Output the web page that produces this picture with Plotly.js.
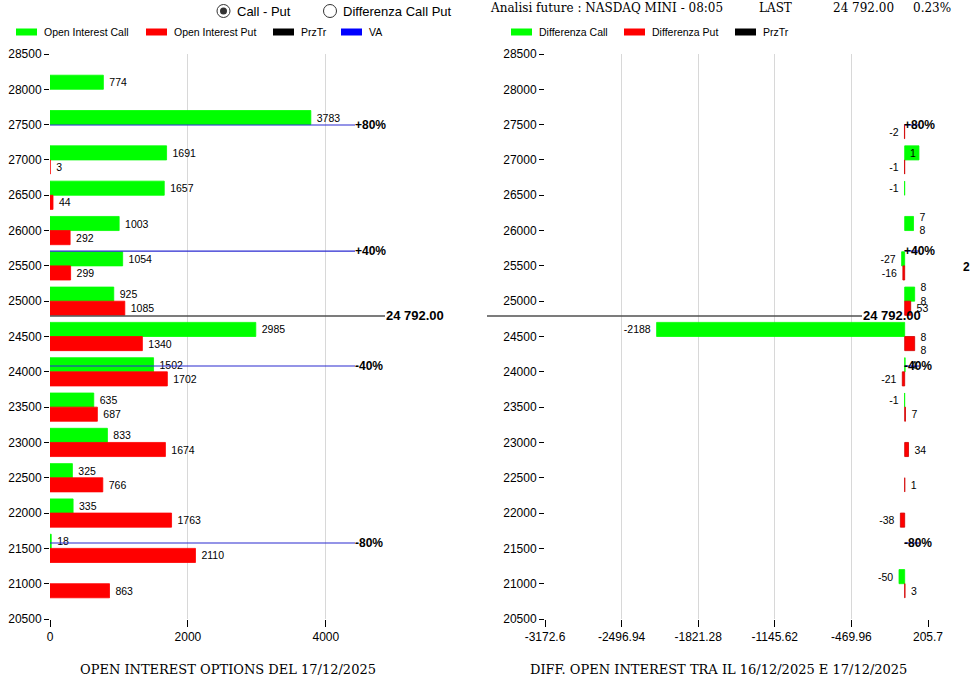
<!DOCTYPE html>
<html><head><meta charset="utf-8">
<script src="https://cdn.plot.ly/plotly-3.0.1.min.js"></script>
<style>html,body{margin:0;padding:0;background:#fff}#chart{width:970px;height:684px}</style>
</head><body><div id="chart"></div>
<script>
// ---------- data ----------
const strikes  = [21000,21500,22000,22500,23000,23500,24000,24500,25000,25500,26000,26500,27000,27500,28000];
const oiCall   = [0,18,335,325,833,635,1502,2985,925,1054,1003,1657,1691,3783,774];
const oiPut    = [863,2110,1763,766,1674,687,1702,1340,1085,299,292,44,3,0,0];
const diffCall = [-50,0,0,0,0,-1,4,-2188,88,-27,78,-1,126,0,0];
const diffPut  = [3,0,-38,1,34,7,-21,88,53,-16,0,0,-1,-2,0];
const diffCallLabels = ['-50','','','','','-1','4','-2188','8<br>8','-27','7<br>8','-1','1','',''];
const diffPutLabels  = ['3','','-38','1','34','7','-21','8<br>8','53','-16','','','-1','-2',''];
const lastPrice = 24792;
const lastChange = '0.23%';
const vaLevels = [27495, 25710, 24082, 21576];
const vaLabels = ['+80%','+40%','-40%','-80%'];
const yTicks = [20500,21000,21500,22000,22500,23000,23500,24000,24500,25000,25500,26000,26500,27000,27500,28000,28500];
const leftXTicks = [0,2000,4000];
const rightXTicks = [-3172.6,-2496.94,-1821.28,-1145.62,-469.96,205.7];

// ---------- helpers ----------
const W = 970, H = 684;
const px = x => x / W;
const py = y => 1 - y / H;
const NB = '\u00a0';
const fmtPrice = p => Math.floor(p/1000) + ' ' + String(Math.round(p%1000)).padStart(3,'0') + '.00';
const labOut = (v, t) => t === '' ? '' : (v < 0 ? t.split('<br>').map(s => s + NB).join('<br>') : t.split('<br>').map(s => NB + s).join('<br>'));
const lw = arr => arr.map(v => v === 0 ? 0 : 0.8);
const sans = 'Liberation Sans, Arial, sans-serif';
const serif = 'DejaVu Serif, serif';
const GREEN = '#00ff00', RED = '#ff0000', VA = '#2a2ad0';

const barBase = {type:'bar', orientation:'h', width:200, cliponaxis:false, constraintext:'none', textangle:0,
  textfont:{family:sans, size:10.5, color:'#000'}, insidetextfont:{family:sans, size:10.5, color:'#000'},
  hoverinfo:'skip'};

const traces = [
  Object.assign({}, barBase, {name:'Open Interest Call', y:strikes, x:oiCall, offset:0, xaxis:'x', yaxis:'y',
    marker:{color:GREEN, line:{color:GREEN, width:lw(oiCall)}},
    text:oiCall.map(v => v ? NB + v : ''), textposition:'outside'}),
  Object.assign({}, barBase, {name:'Open Interest Put', y:strikes, x:oiPut, offset:-200, xaxis:'x', yaxis:'y',
    marker:{color:RED, line:{color:RED, width:lw(oiPut)}},
    text:oiPut.map(v => v ? NB + v : ''), textposition:'outside'}),
  Object.assign({}, barBase, {name:'Differenza Call', y:strikes, x:diffCall, offset:0, xaxis:'x2', yaxis:'y2',
    marker:{color:GREEN, line:{color:GREEN, width:lw(diffCall)}},
    text:diffCall.map((v,i) => diffCallLabels[i] === '1' ? '1' : labOut(v, diffCallLabels[i])),
    textposition:diffCallLabels.map(t => t === '1' ? 'inside' : 'outside')}),
  Object.assign({}, barBase, {name:'Differenza Put', y:strikes, x:diffPut, offset:-200, xaxis:'x2', yaxis:'y2',
    marker:{color:RED, line:{color:'#d00000', width:lw(diffPut)}},
    text:diffPut.map((v,i) => labOut(v, diffPutLabels[i])), textposition:'outside'})
];

const yAxisBase = {range:[20500,28500], tickvals:yTicks, ticktext:yTicks.map(String), ticks:'outside', ticklen:5,
  tickcolor:'#000', tickwidth:1, showgrid:false, zeroline:false, showline:false, fixedrange:true,
  tickfont:{family:sans, size:12, color:'#000'}, domain:[py(619), py(54)]};
const xAxisBase = {ticks:'outside', ticklen:7, tickcolor:'#000', tickwidth:1, showgrid:true, gridcolor:'#d8d8d8',
  gridwidth:1, zeroline:false, showline:false, fixedrange:true, tickfont:{family:sans, size:12, color:'#000'}};

const shapes = [];
const annotations = [];

// price lines
shapes.push({type:'line', xref:'x domain', yref:'y', x0:0, x1:(385-50)/313, y0:lastPrice, y1:lastPrice, line:{color:'#505050', width:1.5}});
shapes.push({type:'line', xref:'x2 domain', yref:'y2', x0:(487-545)/383, x1:(862-545)/383, y0:lastPrice, y1:lastPrice, line:{color:'#505050', width:1.5}});
annotations.push({xref:'paper', yref:'y', x:px(384), y:lastPrice, xanchor:'left', yanchor:'middle', showarrow:false,
  text:'<b>'+fmtPrice(lastPrice)+'</b>', font:{family:sans, size:13, color:'#000'}});
annotations.push({xref:'paper', yref:'y2', x:px(861), y:lastPrice, xanchor:'left', yanchor:'middle', showarrow:false,
  text:'<b>'+fmtPrice(lastPrice)+'</b>', font:{family:sans, size:13, color:'#000'}});
annotations.push({xref:'paper', yref:'y2', x:px(961), y:25480, xanchor:'left', yanchor:'middle', showarrow:false,
  text:'<b>2</b>', font:{family:sans, size:12, color:'#000'}});

// VA lines
vaLevels.forEach((lv, i) => {
  shapes.push({type:'line', xref:'x domain', yref:'y', x0:0, x1:(355-50)/313, y0:lv, y1:lv, line:{color:VA, width:1.2}});
  annotations.push({xref:'paper', yref:'y', x:px(353), y:lv, xanchor:'left', yanchor:'middle', showarrow:false,
    text:'<b>'+vaLabels[i]+'</b>', font:{family:sans, size:12, color:'#000'}});
  shapes.push({type:'line', xref:'x2', yref:'y2', x0:0, x1:130, y0:lv, y1:lv, line:{color:VA, width:1.2}});
  annotations.push({xref:'paper', yref:'y2', x:px(902), y:lv, xanchor:'left', yanchor:'middle', showarrow:false,
    text:'<b>'+vaLabels[i]+'</b>', font:{family:sans, size:12, color:'#000'}});
});

// legends (manual)
function legendItem(x0, color, label){
  shapes.push({type:'rect', xref:'paper', yref:'paper', x0:px(x0), x1:px(x0+21), y0:py(35.5), y1:py(28.5),
    fillcolor:color, line:{width:0}});
  annotations.push({xref:'paper', yref:'paper', x:px(x0+26), y:py(32), xanchor:'left', yanchor:'middle', showarrow:false,
    text:label, font:{family:sans, size:10.5, color:'#000'}});
}
legendItem(16, GREEN, 'Open Interest Call');
legendItem(146, RED, 'Open Interest Put');
legendItem(273, '#000', 'PrzTr');
legendItem(341, '#0000ff', 'VA');
legendItem(511, GREEN, 'Differenza Call');
legendItem(624, RED, 'Differenza Put');
legendItem(735, '#000', 'PrzTr');

// radio buttons
function radio(cx, label, selected){
  shapes.push({type:'circle', xref:'paper', yref:'paper', x0:px(cx-6.5), x1:px(cx+6.5), y0:py(17.5), y1:py(4.5),
    fillcolor:'#fff', line:{color:'#333', width:1}});
  if (selected) shapes.push({type:'circle', xref:'paper', yref:'paper', x0:px(cx-3.5), x1:px(cx+3.5), y0:py(14.5), y1:py(7.5),
    fillcolor:'#333', line:{width:0}});
  annotations.push({xref:'paper', yref:'paper', x:px(cx+11), y:py(11), xanchor:'left', yanchor:'middle', showarrow:false,
    text:label, font:{family:sans, size:13, color:'#000'}});
}
radio(223.5, 'Call - Put', true);
radio(330, 'Differenza Call Put', false);

// header (right)
const hdr = (x, t) => annotations.push({xref:'paper', yref:'paper', x:px(x), y:py(8), xanchor:'left', yanchor:'middle',
  showarrow:false, text:t, font:{family:serif, size:12, color:'#000'}});
hdr(488, 'Analisi future : NASDAQ MINI - 08:05');
hdr(757, 'LAST');
hdr(831, fmtPrice(lastPrice));
hdr(911, lastChange);

// bottom titles
annotations.push({xref:'paper', yref:'paper', x:px(228), y:py(669), xanchor:'center', yanchor:'middle', showarrow:false,
  text:'OPEN INTEREST OPTIONS DEL 17/12/2025', font:{family:serif, size:13, color:'#000'}});
annotations.push({xref:'paper', yref:'paper', x:px(718), y:py(669), xanchor:'center', yanchor:'middle', showarrow:false,
  text:'DIFF. OPEN INTEREST TRA IL 16/12/2025 E 17/12/2025', font:{family:serif, size:13, color:'#000'}});

const layout = {
  width:W, height:H, margin:{l:0, r:0, t:0, b:0}, paper_bgcolor:'#fff', plot_bgcolor:'rgba(0,0,0,0)',
  showlegend:false, barmode:'overlay', hovermode:false,
  xaxis:Object.assign({}, xAxisBase, {domain:[px(50), px(363)], range:[0, 4539.6], tickvals:leftXTicks, ticktext:leftXTicks.map(String), anchor:'y'}),
  yaxis:Object.assign({}, yAxisBase, {anchor:'x'}),
  xaxis2:Object.assign({}, xAxisBase, {domain:[px(545), px(928)], range:[rightXTicks[0], rightXTicks[rightXTicks.length-1]], tickvals:rightXTicks, ticktext:rightXTicks.map(String), anchor:'y2'}),
  yaxis2:Object.assign({}, yAxisBase, {anchor:'x2'}),
  shapes:shapes, annotations:annotations
};

Plotly.newPlot('chart', traces, layout, {displayModeBar:false, staticPlot:true});
</script></body></html>
